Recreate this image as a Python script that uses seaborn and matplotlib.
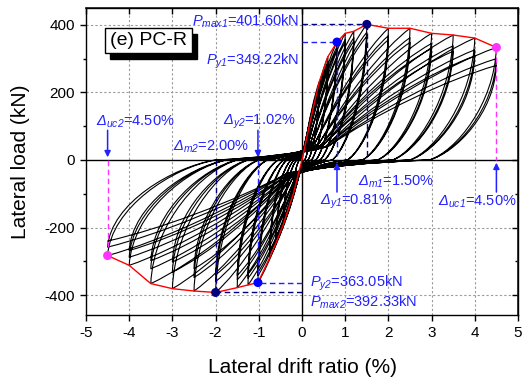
import matplotlib
matplotlib.use("Agg")
import matplotlib.pyplot as plt
import seaborn as sns
import pandas as pd
from matplotlib.path import Path
from matplotlib.patches import PathPatch, Rectangle

# ---------------- data ----------------
amp_pos = [0.2, 0.4, 0.6, 0.81, 1.0, 1.2, 1.5, 2.0, 2.5, 3.0, 3.5, 4.0, 4.5]
amp_neg = [-0.2, -0.43, -0.6, -0.75, -1.02, -1.25, -1.5, -2.0, -2.5, -3.0, -3.5, -4.0, -4.5]

peak_pos_c1 = [120, 232, 306, 349.22, 375, 381, 401.60, 390, 390, 375, 370, 361, 333]
peak_pos_c2 = [115, 222, 292, 335, 356, 362, 378, 368, 362, 345, 338, 326, 300]
peak_pos_c3 = [112, 216, 285, 326, 348, 352, 366, 356, 348, 330, 322, 308, 280]

peak_neg_c1 = [-100, -190, -245, -290, -363.05, -370, -378, -392.33, -388, -381, -366, -312, -283]
peak_neg_c2 = [-95, -180, -233, -276, -342, -350, -355, -360, -348, -332, -322, -288, -258]
peak_neg_c3 = [-92, -175, -226, -268, -332, -338, -342, -340, -322, -302, -298, -268, -240]

# drift where load returns to zero after unloading
res_pos = [0.06, 0.14, 0.22, 0.32, 0.42, 0.52, 0.70, 1.05, 1.40, 1.75, 2.10, 2.50, 2.95]
res_neg = [-0.06, -0.12, -0.18, -0.25, -0.35, -0.42, -0.55, -0.80, -1.00, -1.25, -1.50, -1.75, -2.00]

# end of the pinched branch (start of reloading)
pinch_pos_x = [0.02, 0.05, 0.08, 0.10, 0.15, 0.20, 0.25, 0.30, 0.40, 0.45, 0.50, 0.55, 0.60]
pinch_pos_q = [20, 30, 40, 45, 50, 50, 50, 50, 50, 45, 45, 40, 40]
pinch_neg_x = [-0.02, -0.04, -0.06, -0.08, -0.10, -0.12, -0.15, -0.20, -0.25, -0.30, -0.30, -0.35, -0.35]
pinch_neg_q = [-20, -30, -40, -45, -50, -50, -50, -50, -50, -50, -45, -45, -40]

x_ticks = [-5, -4, -3, -2, -1, 0, 1, 2, 3, 4, 5]
y_ticks = [-400, -200, 0, 200, 400]

# characteristic points
py1 = (0.81, 349.22)
pmax1 = (1.5, 401.60)
puc1 = (4.5, 333)
py2 = (-1.02, -363.05)
pmax2 = (-2.0, -392.33)
puc2 = (-4.5, -283)

# ---------------- style ----------------
sns.set_theme(style="ticks")
plt.rcParams["font.family"] = ["Liberation Sans", "DejaVu Sans"]
plt.rcParams["mathtext.fontset"] = "custom"
plt.rcParams["mathtext.rm"] = "Liberation Sans:italic"
plt.rcParams["mathtext.it"] = "Liberation Sans:italic"
plt.rcParams["mathtext.bf"] = "Liberation Sans:bold"

BLUE = "#2222ff"
NAVY = "#000080"
PINK = "#ff33ff"

fig = plt.figure(figsize=(5.28, 3.81), dpi=100)
ax = fig.add_axes([86 / 528, 1 - 315 / 381, 432 / 528, 307 / 381])
ax.set_xlim(-5, 5)
ax.set_ylim(-459, 450)

# grid and zero lines
for xv in x_ticks[1:-1]:
    if xv != 0:
        ax.axvline(xv, color="#9a9a9a", lw=0.8, ls=(0, (2, 2)), zorder=0)
for yv in [-400, -200, 200, 400]:
    ax.axhline(yv, color="#9a9a9a", lw=0.8, ls=(0, (2, 2)), zorder=0)
ax.axhline(0, color="black", lw=1.0, zorder=1)
ax.axvline(0, color="black", lw=1.0, zorder=1)

# ---------------- hysteresis loops ----------------
verts = [(0.0, 0.0)]
codes = [Path.MOVETO]


def add_curve(c1, c2, p3):
    verts.extend([c1, c2, p3])
    codes.extend([Path.CURVE4] * 3)


def unload(A, P, r):
    add_curve((A + 0.03 * (r - A), 0.5 * P), (r + 0.4 * (A - r), 0.08 * P), (r, 0.0))


def pinch(r, x1, q1):
    add_curve((r + 0.4 * (x1 - r), 0.15 * q1), (r + 0.8 * (x1 - r), 0.55 * q1), (x1, q1))


def reload(x1, q1, A, P):
    add_curve((x1 + 0.3 * (A - x1), q1 + 0.42 * (P - q1)),
              (x1 + 0.7 * (A - x1), q1 + 0.82 * (P - q1)), (A, P))


pos_cycles = list(zip(peak_pos_c1, peak_pos_c2, peak_pos_c3))
neg_cycles = list(zip(peak_neg_c1, peak_neg_c2, peak_neg_c3))
prev = None  # (A, P, residual) of last negative peak
for j in range(len(amp_pos)):
    for k in range(3):
        Ap, Pp = amp_pos[j], pos_cycles[j][k]
        if prev is None:
            add_curve((Ap * 0.3, Pp * 0.35), (Ap * 0.7, Pp * 0.8), (Ap, Pp))
        else:
            An0, Pn0, rn0 = prev
            unload(An0, Pn0, rn0)
            pinch(rn0, pinch_pos_x[j], pinch_pos_q[j])
            reload(pinch_pos_x[j], pinch_pos_q[j], Ap, Pp)
        An, Pn = amp_neg[j], neg_cycles[j][k]
        unload(Ap, Pp, res_pos[j])
        pinch(res_pos[j], pinch_neg_x[j], pinch_neg_q[j])
        reload(pinch_neg_x[j], pinch_neg_q[j], An, Pn)
        prev = (An, Pn, res_neg[j])

ax.add_patch(PathPatch(Path(verts, codes), facecolor="none", edgecolor="black",
                       lw=0.8, zorder=2, capstyle="round", joinstyle="round"))

# ---------------- envelope ----------------
env = pd.DataFrame({
    "drift": amp_neg[::-1] + [0.0] + amp_pos,
    "load": peak_neg_c1[::-1] + [0.0] + peak_pos_c1,
})
sns.lineplot(data=env, x="drift", y="load", sort=False, estimator=None,
             color="red", lw=1.0, ax=ax, zorder=3)

# ---------------- characteristic lines ----------------
dash = (0, (4, 2.5))
ax.plot([0, py1[0]], [py1[1]] * 2, color=BLUE, lw=1, ls=dash, zorder=4)
ax.plot([py1[0]] * 2, [py1[1], 0], color=BLUE, lw=1, ls=dash, zorder=4)
ax.plot([0, pmax1[0]], [pmax1[1]] * 2, color=NAVY, lw=1, ls=dash, zorder=4)
ax.plot([pmax1[0]] * 2, [pmax1[1], 0], color=NAVY, lw=1, ls=dash, zorder=4)
ax.plot([puc1[0]] * 2, [puc1[1], 0], color=PINK, lw=1, ls=dash, zorder=4)
ax.plot([0, py2[0]], [py2[1]] * 2, color=BLUE, lw=1, ls=dash, zorder=4)
ax.plot([py2[0]] * 2, [py2[1], 0], color=BLUE, lw=1, ls=dash, zorder=4)
ax.plot([0, pmax2[0]], [pmax2[1]] * 2, color=NAVY, lw=1, ls=dash, zorder=4)
ax.plot([pmax2[0]] * 2, [pmax2[1], 0], color=NAVY, lw=1, ls=dash, zorder=4)
ax.plot([puc2[0]] * 2, [puc2[1], 0], color=PINK, lw=1, ls=dash, zorder=4)

pts = pd.DataFrame({
    "drift": [py1[0], pmax1[0], puc1[0], py2[0], pmax2[0], puc2[0]],
    "load": [py1[1], pmax1[1], puc1[1], py2[1], pmax2[1], puc2[1]],
    "kind": ["y", "max", "uc", "y", "max", "uc"],
})
sns.scatterplot(data=pts, x="drift", y="load", hue="kind",
                palette={"y": "#0000ff", "max": NAVY, "uc": PINK},
                s=42, edgecolor="none", legend=False, ax=ax, zorder=5)

# arrows
arrow_kw = dict(arrowstyle="-|>", color=BLUE, lw=1.1, mutation_scale=9, shrinkA=0, shrinkB=0)
ax.annotate("", xy=(-4.5, 8), xytext=(-4.5, 88), arrowprops=arrow_kw, zorder=6)
ax.annotate("", xy=(-1.02, 8), xytext=(-1.02, 88), arrowprops=arrow_kw, zorder=6)
ax.annotate("", xy=(0.81, -8), xytext=(0.81, -95), arrowprops=arrow_kw, zorder=6)
ax.annotate("", xy=(4.5, -8), xytext=(4.5, -95), arrowprops=arrow_kw, zorder=6)

# texts
tkw = dict(color=BLUE, fontsize=10.5, va="center", zorder=7)
ax.text(-0.06, 410, r"$P_{max1}$=401.60kN", ha="right", **tkw)
ax.text(-0.06, 291, r"$P_{y1}$=349.22kN", ha="right", **tkw)
ax.text(-4.77, 113, r"$\mathrm{Δ}_{uc2}$=4.50%", ha="left", **tkw)
ax.text(-1.83, 113, r"$\mathrm{Δ}_{y2}$=1.02%", ha="left", **tkw)
ax.text(-2.99, 39, r"$\mathrm{Δ}_{m2}$=2.00%", ha="left", **tkw)
ax.text(0.42, -124, r"$\mathrm{Δ}_{y1}$=0.81%", ha="left", **tkw)
ax.text(1.30, -65, r"$\mathrm{Δ}_{m1}$=1.50%", ha="left", **tkw)
ax.text(3.15, -124, r"$\mathrm{Δ}_{uc1}$=4.50%", ha="left", **tkw)
ax.text(0.19, -365, r"$P_{y2}$=363.05kN", ha="left", **tkw)
ax.text(0.19, -420, r"$P_{max2}$=392.33kN", ha="left", **tkw)

# label box with shadow
ax.add_patch(Rectangle((-4.44, 299), 2.01, 74, facecolor="black", edgecolor="black", zorder=8))
ax.add_patch(Rectangle((-4.56, 317), 2.01, 74, facecolor="white", edgecolor="black", lw=1, zorder=9))
ax.text(-3.555, 354, "(e) PC-R", ha="center", va="center", fontsize=14, color="black", zorder=10)

# ---------------- axes ----------------
ax.set_xticks(x_ticks)
ax.set_yticks(y_ticks)
ax.set_yticks([-300, -100, 100, 300], minor=True)
ax.set_xticklabels([str(v) for v in x_ticks])
ax.set_yticklabels([str(v) for v in y_ticks])
ax.tick_params(axis="both", which="major", direction="out", length=4, width=1,
               labelsize=11, color="black", labelcolor="black", pad=4)
ax.tick_params(axis="y", which="minor", direction="out", length=2.5, width=1, color="black")
for s in ax.spines.values():
    s.set_visible(True)
    s.set_color("black")
    s.set_linewidth(1)

top = ax.secondary_xaxis("top")
top.set_xticks(x_ticks)
top.set_xticklabels([])
top.tick_params(direction="in", length=4, width=1, color="black")
right = ax.secondary_yaxis("right")
right.set_yticks(y_ticks)
right.set_yticks([-300, -100, 100, 300], minor=True)
right.set_yticklabels([])
right.tick_params(which="major", direction="in", length=4, width=1, color="black")
right.tick_params(which="minor", direction="in", length=2.5, width=1, color="black")

ax.set_xlabel("Lateral drift ratio (%)", fontsize=15, color="black", labelpad=13)
ax.set_ylabel("Lateral load (kN)", fontsize=15, color="black", labelpad=10)

fig.savefig("out.png", dpi=100)
